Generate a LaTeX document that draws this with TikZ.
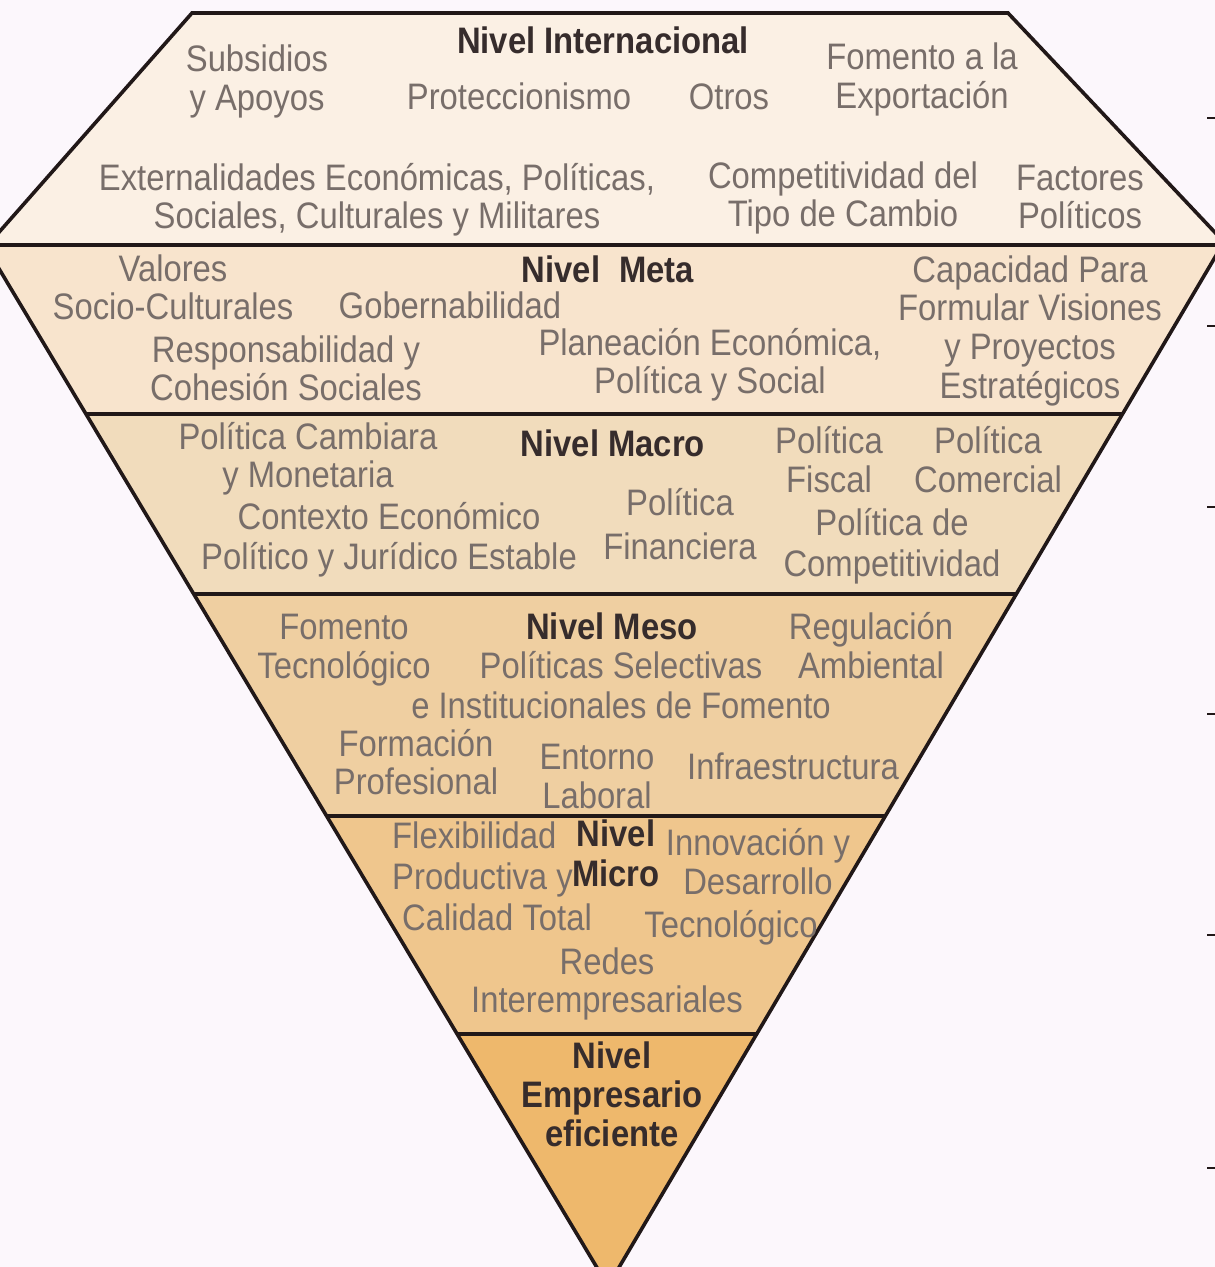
\documentclass[tikz,border=0pt]{standalone}
\usepackage{fontspec}
\setmainfont{Liberation Sans}[FakeStretch=0.89]
\definecolor{bgc}{HTML}{FCF7FC}
\definecolor{cA}{HTML}{FBF0E4}
\definecolor{cB}{HTML}{F8E4CD}
\definecolor{cC}{HTML}{F1DCBC}
\definecolor{cD}{HTML}{EFCFA1}
\definecolor{cE}{HTML}{EFC68D}
\definecolor{cF}{HTML}{EEB86C}
\definecolor{edgec}{HTML}{211818}
\definecolor{txtc}{HTML}{786E6A}
\definecolor{ttlc}{HTML}{362C2C}
\newcommand\mlc[2][39bp]{\vtop{\baselineskip=#1\relax\lineskiplimit=-1000pt\lineskip=0pt\halign{\hfil##\hfil\cr#2\crcr}}}
\newcommand\mll[2][39bp]{\vtop{\baselineskip=#1\relax\lineskiplimit=-1000pt\lineskip=0pt\halign{##\hfil\cr#2\crcr}}}
\tikzset{
  edgeline/.style={draw=edgec, line width=3.6bp},
  txt/.style={text=txtc, font=\fontsize{37}{39}\selectfont, inner sep=0pt, anchor=base},
  txtl/.style={txt, anchor=base west},
  ttl/.style={txt, text=ttlc, font=\fontsize{37}{39}\selectfont\bfseries},
  tickmark/.style={draw=edgec, line width=2.5bp}
}
\begin{document}
\begin{tikzpicture}[x=1bp,y=-1bp]
\useasboundingbox (0,0) rectangle (1215,1267);
\fill[bgc] (0,0) rectangle (1215,1267);
\coordinate (tl) at (192,13);
\coordinate (tr) at (1008,13);
\coordinate (rv) at (1224,242);
\coordinate (ap) at (608,1286);
\coordinate (lv) at (-14,247);
\begin{scope}
  \clip (tl) -- (tr) -- (rv) -- (ap) -- (lv) -- cycle;
  \fill[cA] (-30,0) rectangle (1250,245);
  \fill[cB] (-30,245) rectangle (1250,414);
  \fill[cC] (-30,414) rectangle (1250,594);
  \fill[cD] (-30,594) rectangle (1250,816);
  \fill[cE] (-30,816) rectangle (1250,1034);
  \fill[cF] (-30,1034) rectangle (1250,1300);
  \foreach \yy in {245,414,594,816,1034} \draw[edgeline] (-30,\yy) -- (1250,\yy);
\end{scope}
\draw[edgeline, line join=miter] (tl) -- (tr) -- (rv) -- (ap) -- (lv) -- cycle;
\foreach \yy in {118,326,507,714,935,1168} \draw[tickmark] (1207,\yy) -- (1215,\yy);

% Nivel Internacional
\node[ttl] (n1) at (603,53) {Nivel Internacional};
\node[txt] (sub) at (257,71) {\mlc{Subsidios\cr y Apoyos}};
\node[txt] (pro) at (519,109) {Proteccionismo};
\node[txt] (otr) at (729,109) {Otros};
\node[txt] (fom) at (922,69) {\mlc{Fomento a la\cr Exportación}};
\node[txt] (ext) at (377,190) {\mlc[38bp]{Externalidades Económicas, Políticas,\cr Sociales, Culturales y Militares}};
\node[txt] (com) at (843,188) {\mlc[38bp]{Competitividad del\cr Tipo de Cambio}};
\node[txt] (fac) at (1080,190) {\mlc[38bp]{Factores\cr Políticos}};

% Nivel Meta
\node[ttl] (n2) at (608,282) {Nivel\hspace{10bp} Meta};
\node[txt] (val) at (173,281) {\mlc[38bp]{Valores\cr Socio-Culturales}};
\node[txt] (gob) at (450,318) {Gobernabilidad};
\node[txt] (res) at (286,362) {\mlc[38bp]{Responsabilidad y\cr Cohesión Sociales}};
\node[txt] (pla) at (710,355) {\mlc[38bp]{Planeación Económica,\cr Política y Social}};
\node[txt] (cap) at (1030,282) {\mlc[38.7bp]{Capacidad Para\cr Formular Visiones\cr y Proyectos\cr Estratégicos}};

% Nivel Macro
\node[ttl] (n3) at (613,456) {Nivel Macro};
\node[txt] (pcm) at (308,449) {\mlc[38bp]{Política Cambiara\cr y Monetaria}};
\node[txt] (ctx) at (389,529) {\mlc[40bp]{Contexto Económico\cr Político y Jurídico Estable}};
\node[txt] (pfi) at (680,515) {\mlc[44bp]{Política\cr Financiera}};
\node[txt] (pfs) at (829,453) {\mlc[39bp]{Política\cr Fiscal}};
\node[txt] (pco) at (988,453) {\mlc[39bp]{Política\cr Comercial}};
\node[txt] (pcp) at (892,535) {\mlc[41bp]{Política de\cr Competitividad}};

% Nivel Meso
\node[ttl] (n4) at (612,639) {Nivel Meso};
\node[txt] (fte) at (344,639) {\mlc[39bp]{Fomento\cr Tecnológico}};
\node[txt] (psl) at (621,678) {\mlc[40bp]{Políticas Selectivas\cr e Institucionales de Fomento}};
\node[txt] (reg) at (871,639) {\mlc[39bp]{Regulación\cr Ambiental}};
\node[txt] (fpr) at (416,756) {\mlc[38bp]{Formación\cr Profesional}};
\node[txt] (ent) at (597,769) {\mlc[39bp]{Entorno\cr Laboral}};
\node[txt] (inf) at (793,779) {Infraestructura};

% Nivel Micro
\node[ttl] (n5) at (616,846) {\mlc[40bp]{Nivel\cr Micro}};
\node[txtl] (flx) at (392,848) {\mll[41bp]{Flexibilidad\cr Productiva y\cr \hspace{10bp}Calidad Total}};
\node[txt] (inn) at (758,855) {\mlc[39bp]{Innovación y\cr Desarrollo}};
\node[txt] (tec) at (731,937) {Tecnológico};
\node[txt] (red) at (607,974) {\mlc[38bp]{Redes\cr Interempresariales}};

% Nivel Empresario
\node[ttl] (n6) at (612,1068) {\mlc[39bp]{Nivel\cr Empresario\cr eficiente}};
\end{tikzpicture}
\end{document}
